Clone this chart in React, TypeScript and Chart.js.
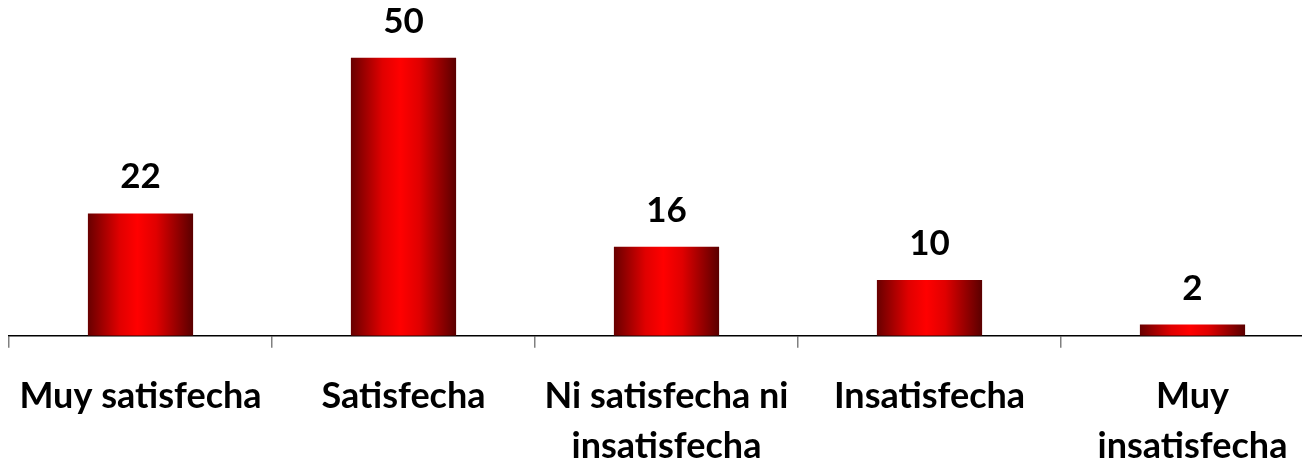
import React, { useEffect, useRef } from "react";
import { Chart, registerables } from "chart.js";

Chart.register(...registerables);

const categories: string[][] = [
  ["Muy satisfecha"],
  ["Satisfecha"],
  ["Ni satisfecha ni", "insatisfecha"],
  ["Insatisfecha"],
  ["Muy", "insatisfecha"],
];
const values: number[] = [22, 50, 16, 10, 2];
const yMax = 55;

const FONT = "Lato, 'Noto Sans', sans-serif";

const barGradient = {
  id: "barGradient",
  beforeDatasetsDraw(chart: any) {
    const ctx = chart.ctx;
    const meta = chart.getDatasetMeta(0);
    meta.data.forEach((bar: any) => {
      const { x, width } = bar.getProps(["x", "width"], true);
      if (!isFinite(x) || !isFinite(width)) return;
      const g = ctx.createLinearGradient(x - width / 2, 0, x + width / 2, 0);
      g.addColorStop(0, "#680000");
      g.addColorStop(0.3, "#e00000");
      g.addColorStop(0.47, "#ff0000");
      g.addColorStop(0.65, "#e00000");
      g.addColorStop(1, "#5a0000");
      bar.options.backgroundColor = g;
    });
  },
};

const valueLabels = {
  id: "valueLabels",
  afterDatasetsDraw(chart: any) {
    const ctx = chart.ctx;
    const meta = chart.getDatasetMeta(0);
    ctx.save();
    ctx.fillStyle = "#000";
    ctx.font = `bold 35px ${FONT}`;
    ctx.textAlign = "center";
    ctx.textBaseline = "alphabetic";
    meta.data.forEach((bar: any, i: number) => {
      ctx.fillText(String(values[i]), bar.x, bar.y - 25);
    });
    ctx.restore();
  },
};

export default function App() {
  const ref = useRef<HTMLCanvasElement | null>(null);
  useEffect(() => {
    if (!ref.current) return;
    const chart = new Chart(ref.current, {
      type: "bar",
      data: {
        labels: categories,
        datasets: [
          {
            data: values,
            barPercentage: 0.8,
            categoryPercentage: 0.5,
            borderWidth: 0,
            backgroundColor: (c: any) => (c.dataIndex >= 0 ? "#e00000" : "#e00001"),
          },
        ],
      },
      options: {
        animation: false,
        responsive: false,
        maintainAspectRatio: false,
        layout: { padding: { left: 1, right: 14, top: 22, bottom: 18 } },
        plugins: { legend: { display: false }, tooltip: { enabled: false } },
        scales: {
          y: { display: false, min: 0, max: yMax },
          x: {
            offset: true,
            afterFit: (s: any) => {
              s.paddingLeft = 0;
              s.paddingRight = 0;
            },
            border: { display: true, color: "#000", width: 1.5 },
            grid: {
              offset: true,
              drawOnChartArea: false,
              drawTicks: true,
              tickLength: 12,
              color: "#808080",
              lineWidth: 1.5,
            },
            ticks: {
              color: "#000",
              padding: 24,
              maxRotation: 0,
              autoSkip: false,
              font: { family: FONT, size: 36, weight: "bold", lineHeight: 1.38 },
            },
          },
        },
      },
      plugins: [barGradient, valueLabels],
    });
    return () => chart.destroy();
  }, []);
  return (
    <div style={{ width: 1302, height: 457, overflow: "hidden", position: "relative" }}>
      <canvas ref={ref} width={1330} height={505} style={{ display: "block", width: 1330, height: 505 }} />
    </div>
  );
}
